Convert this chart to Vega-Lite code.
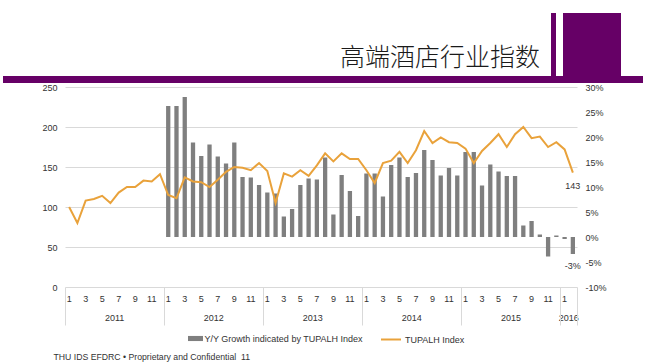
{
  "$schema": "https://vega.github.io/schema/vega-lite/v6.json",
  "width": 512,
  "height": 200,
  "autosize": {"type": "none"},
  "padding": {"left": 65, "top": 87, "right": 82, "bottom": 77},
  "background": "white",
  "title": {
    "text": "高端酒店行业指数",
    "font": "Noto Sans CJK SC",
    "fontSize": 25,
    "fontWeight": 300,
    "color": "#1a1a1a",
    "anchor": "start",
    "frame": "group",
    "align": "left",
    "baseline": "alphabetic",
    "dx": 275,
    "offset": -8
  },
  "data": {
    "values": [
      {"m": "2011-01", "idx": 100},
      {"m": "2011-02", "idx": 80},
      {"m": "2011-03", "idx": 108},
      {"m": "2011-04", "idx": 110},
      {"m": "2011-05", "idx": 114},
      {"m": "2011-06", "idx": 105},
      {"m": "2011-07", "idx": 118},
      {"m": "2011-08", "idx": 125},
      {"m": "2011-09", "idx": 125},
      {"m": "2011-10", "idx": 133},
      {"m": "2011-11", "idx": 132},
      {"m": "2011-12", "idx": 141},
      {"m": "2012-01", "idx": 115, "g": 26.2},
      {"m": "2012-02", "idx": 111, "g": 26.2},
      {"m": "2012-03", "idx": 137, "g": 28.0},
      {"m": "2012-04", "idx": 132, "g": 18.9},
      {"m": "2012-05", "idx": 131, "g": 16.2},
      {"m": "2012-06", "idx": 125, "g": 18.5},
      {"m": "2012-07", "idx": 134, "g": 16.1},
      {"m": "2012-08", "idx": 144, "g": 14.7},
      {"m": "2012-09", "idx": 150, "g": 18.9},
      {"m": "2012-10", "idx": 149, "g": 12.0},
      {"m": "2012-11", "idx": 146, "g": 11.9},
      {"m": "2012-12", "idx": 155, "g": 10.4},
      {"m": "2013-01", "idx": 145, "g": 8.9},
      {"m": "2013-02", "idx": 105, "g": 8.7},
      {"m": "2013-03", "idx": 142, "g": 4.1},
      {"m": "2013-04", "idx": 138, "g": 5.6},
      {"m": "2013-05", "idx": 146, "g": 10.4},
      {"m": "2013-06", "idx": 139, "g": 11.7},
      {"m": "2013-07", "idx": 152, "g": 11.5},
      {"m": "2013-08", "idx": 167, "g": 15.9},
      {"m": "2013-09", "idx": 157, "g": 4.5},
      {"m": "2013-10", "idx": 167, "g": 12.4},
      {"m": "2013-11", "idx": 160, "g": 9.2},
      {"m": "2013-12", "idx": 160, "g": 4.2},
      {"m": "2014-01", "idx": 146, "g": 12.7},
      {"m": "2014-02", "idx": 130, "g": 12.7},
      {"m": "2014-03", "idx": 155, "g": 8.1},
      {"m": "2014-04", "idx": 158, "g": 14.4},
      {"m": "2014-05", "idx": 169, "g": 15.9},
      {"m": "2014-06", "idx": 155, "g": 12.0},
      {"m": "2014-07", "idx": 171, "g": 12.8},
      {"m": "2014-08", "idx": 195, "g": 17.4},
      {"m": "2014-09", "idx": 180, "g": 15.4},
      {"m": "2014-10", "idx": 187, "g": 12.3},
      {"m": "2014-11", "idx": 181, "g": 13.8},
      {"m": "2014-12", "idx": 180, "g": 12.3},
      {"m": "2015-01", "idx": 173, "g": 17.0},
      {"m": "2015-02", "idx": 155, "g": 17.0},
      {"m": "2015-03", "idx": 170, "g": 10.3},
      {"m": "2015-04", "idx": 180, "g": 14.5},
      {"m": "2015-05", "idx": 191, "g": 13.1},
      {"m": "2015-06", "idx": 175, "g": 12.2},
      {"m": "2015-07", "idx": 191, "g": 12.2},
      {"m": "2015-08", "idx": 200, "g": 2.3},
      {"m": "2015-09", "idx": 186, "g": 3.2},
      {"m": "2015-10", "idx": 188, "g": 0.5},
      {"m": "2015-11", "idx": 175, "g": -3.9},
      {"m": "2015-12", "idx": 181, "g": 0.3},
      {"m": "2016-01", "idx": 172, "g": -0.4},
      {"m": "2016-02", "idx": 143, "g": -3.4}
    ]
  },
  "config": {
    "font": "Liberation Sans",
    "view": {"stroke": null},
    "axis": {
      "labelFont": "Liberation Sans",
      "labelFontSize": 9,
      "labelColor": "#333333",
      "domain": false,
      "ticks": false,
      "grid": false,
      "title": null,
      "labelOverlap": false
    },
    "legend": {
      "labelFont": "Liberation Sans",
      "labelFontSize": 9,
      "labelColor": "#333333",
      "padding": 0,
      "title": null
    }
  },
  "layer": [
    {
      "mark": {"type": "bar", "width": {"band": 0.52}},
      "encoding": {
        "x": {
          "field": "m",
          "type": "ordinal",
          "scale": {"type": "band", "paddingInner": 0, "paddingOuter": 0},
          "axis": {
            "orient": "bottom",
            "values": ["2011-01","2011-03","2011-05","2011-07","2011-09","2011-11","2012-01","2012-03","2012-05","2012-07","2012-09","2012-11","2013-01","2013-03","2013-05","2013-07","2013-09","2013-11","2014-01","2014-03","2014-05","2014-07","2014-09","2014-11","2015-01","2015-03","2015-05","2015-07","2015-09","2015-11","2016-01"],
            "labelExpr": "'' + toNumber(slice(datum.value, 5))",
            "labelAngle": 0,
            "labelPadding": 7,
            "tickSize": 0,
            "ticks": false
          }
        },
        "y": {
          "field": "g",
          "type": "quantitative",
          "scale": {"domain": [-10, 30], "nice": false},
          "axis": {
            "orient": "right",
            "values": [-10, -5, 0, 5, 10, 15, 20, 25, 30],
            "labelExpr": "datum.value + '%'",
            "labelPadding": 8,
            "tickSize": 0,
            "grid": false
          }
        },
        "fill": {
          "datum": "Y/Y Growth indicated by TUPALH Index",
          "scale": {"range": ["#7f7f7f"]},
          "legend": {
            "orient": "none",
            "legendX": 123,
            "legendY": 244,
            "symbolType": "M-1,-0.34H1V0.34H-1Z",
            "symbolSize": 225,
            "symbolStrokeWidth": 0,
            "labelOffset": 1.5
          }
        }
      }
    },
    {
      "transform": [
        {"filter": "datum.m == '2016-02'"},
        {"calculate": "round(datum.g) + '%'", "as": "lab"}
      ],
      "mark": {"type": "text", "baseline": "top", "align": "center", "dy": 8, "fontSize": 9, "color": "#333333"},
      "encoding": {
        "x": {
          "field": "m",
          "type": "ordinal",
          "axis": {
            "orient": "bottom",
            "values": ["2011-07", "2012-07", "2013-07", "2014-07", "2015-07", "2016-02"],
            "labelExpr": "slice(datum.value, 0, 4)",
            "labelAngle": 0,
            "labelOffset": -4.13,
            "labelPadding": 26,
            "tickSize": 0,
            "ticks": false
          }
        },
        "y": {"field": "g", "type": "quantitative", "scale": {"domain": [-10, 30], "nice": false}, "axis": null},
        "text": {"field": "lab"}
      }
    },
    {
      "mark": {"type": "line", "strokeWidth": 2},
      "encoding": {
        "x": {
          "field": "m",
          "type": "ordinal",
          "axis": {
            "orient": "bottom",
            "values": ["2011-01", "2012-01", "2013-01", "2014-01", "2015-01", "2016-01"],
            "bandPosition": 0,
            "ticks": true,
            "tickSize": 38,
            "tickColor": "#d9d9d9",
            "tickWidth": 1,
            "labels": false,
            "title": "THU IDS EFDRC • Proprietary and Confidential\u00a0 11",
            "titleX": -12,
            "titleY": 69,
            "titleAlign": "left",
            "titleBaseline": "middle",
            "titleAngle": 0,
            "titleFont": "Liberation Sans",
            "titleFontSize": 8.7,
            "titleFontWeight": "normal",
            "titleColor": "#333333"
          }
        },
        "y": {
          "field": "idx",
          "type": "quantitative",
          "scale": {"domain": [0, 250], "nice": false},
          "axis": {
            "orient": "left",
            "values": [0, 50, 100, 150, 200, 250],
            "grid": true,
            "gridColor": "#d9d9d9",
            "gridWidth": 1,
            "labelPadding": 8,
            "tickSize": 0
          }
        },
        "stroke": {
          "datum": "TUPALH Index",
          "scale": {"range": ["#e9a23b"]},
          "legend": {
            "orient": "none",
            "legendX": 315,
            "legendY": 241.5,
            "symbolType": "stroke",
            "symbolSize": 400,
            "symbolStrokeWidth": 2,
            "labelOffset": 3
          }
        }
      }
    },
    {
      "transform": [{"filter": "datum.m == '2016-02'"}],
      "mark": {"type": "text", "baseline": "top", "align": "center", "dy": 9, "fontSize": 9, "color": "#333333"},
      "encoding": {
        "x": {
          "field": "m",
          "type": "ordinal",
          "axis": {
            "orient": "bottom",
            "values": ["2016-02"],
            "bandPosition": 1,
            "ticks": true,
            "tickSize": 38,
            "tickColor": "#d9d9d9",
            "tickWidth": 1,
            "labels": false
          }
        },
        "y": {"field": "idx", "type": "quantitative", "scale": {"domain": [0, 250], "nice": false}, "axis": null},
        "text": {"field": "idx"}
      }
    },
    {
      "transform": [{"filter": "datum.m == '2016-02'"}],
      "mark": {"type": "text", "color": "#660066", "text": ""},
      "encoding": {
        "opacity": {
          "datum": "deco",
          "type": "ordinal",
          "scale": {"range": [1, 1]},
          "legend": {
            "orient": "none",
            "legendX": -1,
            "legendY": -1,
            "symbolType": "M-62,-11H578V-4H-62Z M486,-74H491V-10H486Z M498,-74H556V-10H498Z",
            "symbolSize": 4,
            "symbolFillColor": "#660066",
            "symbolStrokeWidth": 0,
            "symbolOpacity": 1,
            "labelExpr": "''",
            "labelFontSize": 1
          }
        }
      }
    }
  ],
  "resolve": {"scale": {"y": "independent"}, "axis": {"x": "independent"}}
}
